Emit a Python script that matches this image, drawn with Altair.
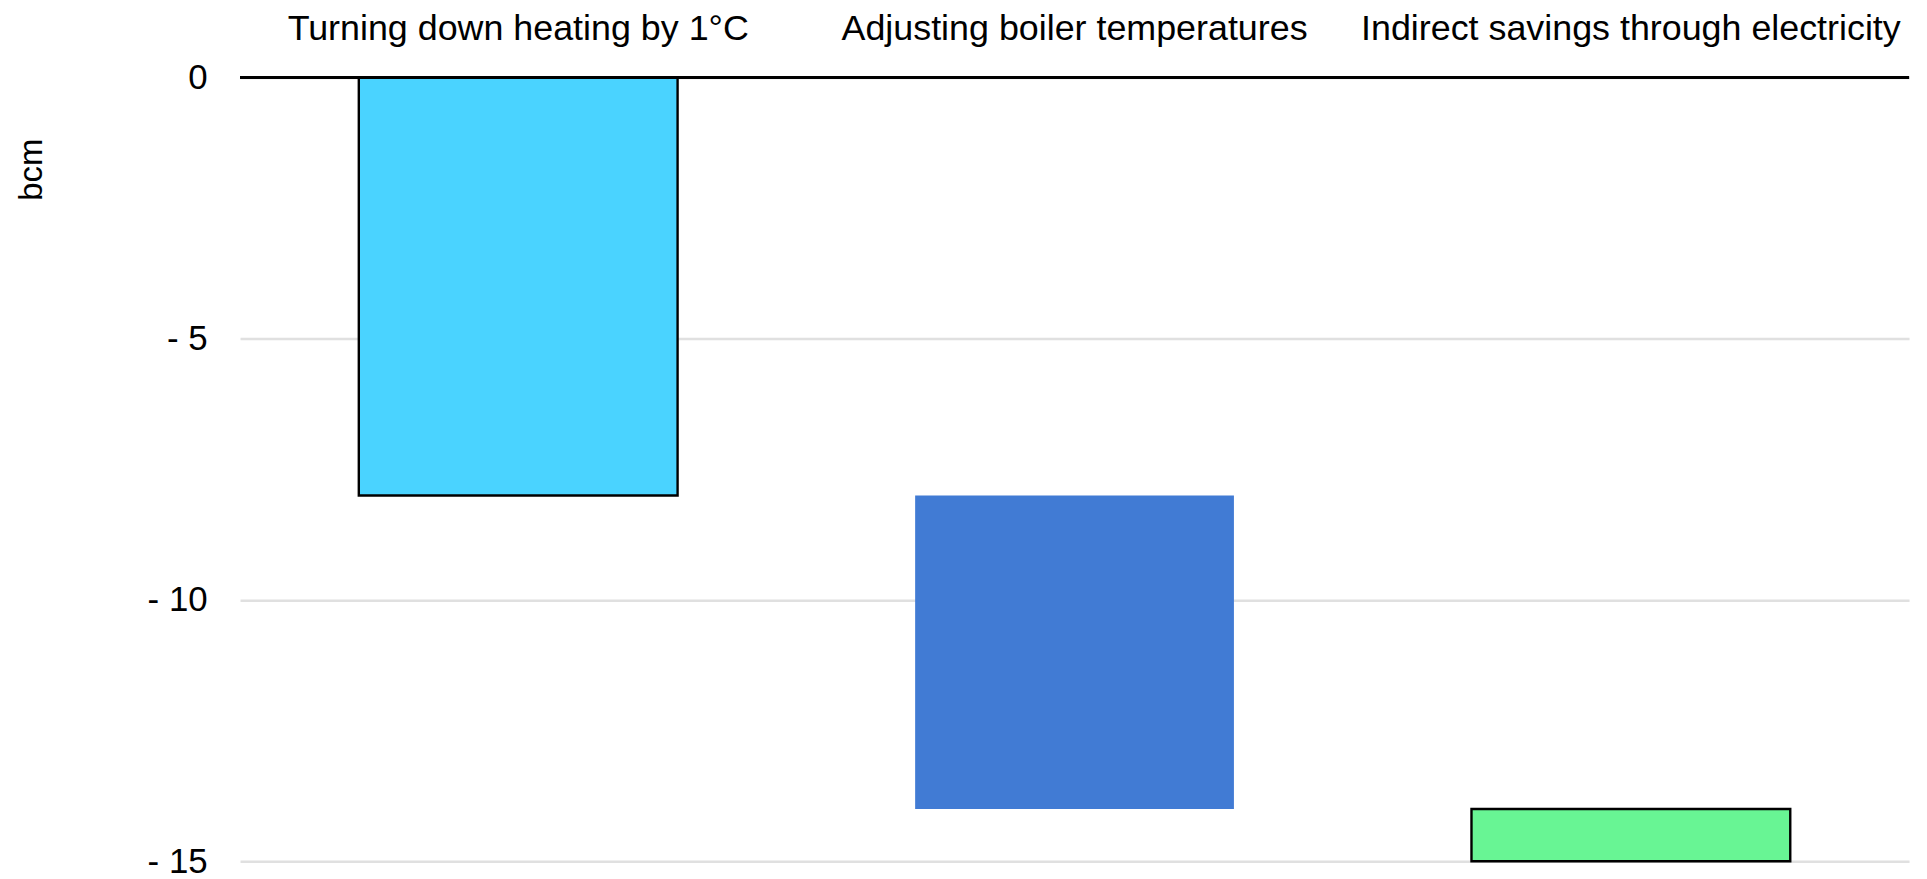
import altair as alt
import pandas as pd

categories = ["Turning down heating by 1°C", "Adjusting boiler temperatures", "Indirect savings through electricity"]
bar_start = [0, -8, -14]
bar_end = [-8, -14, -15]
y_ticks = [0, -5, -10, -15]
colors = ["#4AD3FF", "#417BD4", "#68F594"]

df = pd.DataFrame({"category": categories, "start": bar_start, "end": bar_end})

FONT = "Liberation Sans"

x_enc = alt.X(
    "category:N",
    sort=categories,
    scale=alt.Scale(paddingInner=0.427, paddingOuter=0.2135),
    axis=alt.Axis(
        orient="top", title=None, ticks=False, tickSize=0, domain=False,
        labelFontSize=36, labelFont=FONT, labelColor="#000000",
        labelPadding=38, labelBaseline="alphabetic", labelAngle=0,
        labelLimit=0,
    ),
)

y_enc = alt.Y(
    "start:Q",
    scale=alt.Scale(domain=[-15, 0], nice=False, zero=False),
    axis=alt.Axis(
        values=y_ticks, title="bcm", ticks=False, tickSize=0, domain=False,
        labelFontSize=35, labelFont=FONT, labelColor="#000000",
        labelPadding=33, labelBaseline="middle",
        labelExpr="datum.value == 0 ? '0' : '- ' + abs(datum.value)",
        grid=True, gridColor="#e0e0e0", gridWidth=2.5,
        titleFont=FONT, titleFontSize=33, titleFontWeight="normal", titleColor="#000000",
        titleX=-199, titleY=92, titleAlign="center", titleBaseline="alphabetic", titleAngle=270,
    ),
)

bars = alt.Chart(df).mark_bar(stroke="#000000").encode(
    x=x_enc,
    y=y_enc,
    y2="end:Q",
    color=alt.Color("category:N", scale=alt.Scale(domain=categories, range=colors), legend=None),
    strokeWidth=alt.condition(alt.datum.category == categories[1], alt.value(0), alt.value(2.4)),
)

zero_line = alt.Chart(df).mark_rule(color="#000000", strokeWidth=3).encode(
    y=alt.datum(0)
)

chart = alt.layer(bars, zero_line).properties(
    width=1676, height=787,
    autosize=alt.AutoSizeParams(type="none"),
    padding={"left": 233, "top": 68, "right": 10, "bottom": 15},
    background="#ffffff",
).configure_view(stroke=None)

chart.save("out.html", embed_options={"renderer": "svg", "actions": False})
